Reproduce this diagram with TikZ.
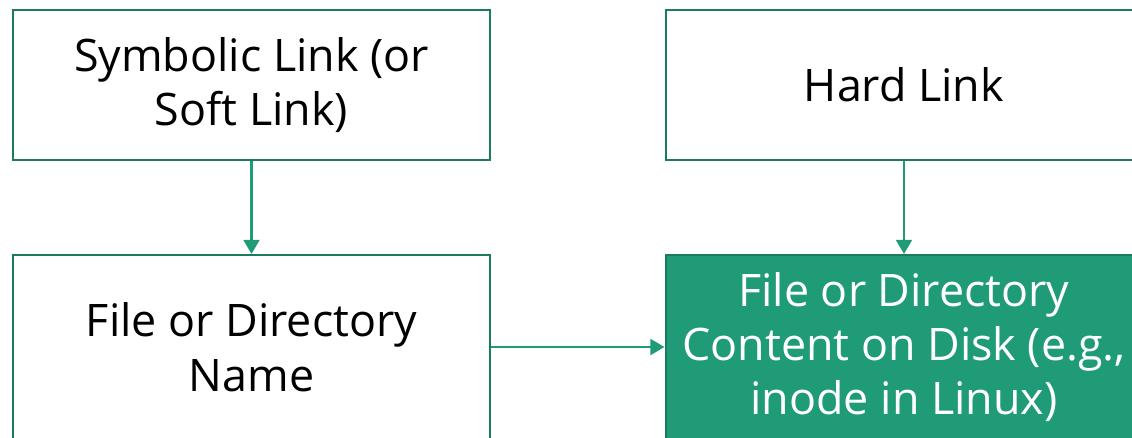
\documentclass[tikz,border=0pt]{standalone}
\usepackage{fontspec}
\setmainfont{Open Sans}
\usetikzlibrary{arrows.meta}
\definecolor{boxline}{RGB}{28,122,94}
\definecolor{boxfill}{RGB}{31,155,119}

\begin{document}
\begin{tikzpicture}[x=0.02cm, y=-0.02cm,
    linkbox/.style={draw=boxline, line width=1.2pt, inner sep=0pt, align=center,
        minimum width=9.54cm, font=\fontsize{25.5}{31}\selectfont},
    linkarrow/.style={draw=boxfill, line width=1.3pt, -{Triangle[length=8pt, width=9pt]}}]
        \clip (0,0) rectangle (1132,437);
        \useasboundingbox (0,0) rectangle (1132,437);

        \node[linkbox, minimum height=3cm] (soft) at (251.5,85) {Symbolic Link (or\\Soft Link)};
        \node[linkbox, minimum height=3cm] (hard) at (904,85) {Hard Link};
        \node[linkbox, minimum height=3.68cm] (name) at (251.5,347) {File or Directory\\Name};
        \node[linkbox, minimum height=3.68cm, fill=boxfill, text=white] (content) at (904,347)
            {File or Directory\\Content on Disk (e.g.,\\inode in Linux)};

        \draw[linkarrow] (soft) -- (name);
        \draw[linkarrow] (hard) -- (content);
        \draw[linkarrow] (name) -- (content);
    \end{tikzpicture}
\end{document}
